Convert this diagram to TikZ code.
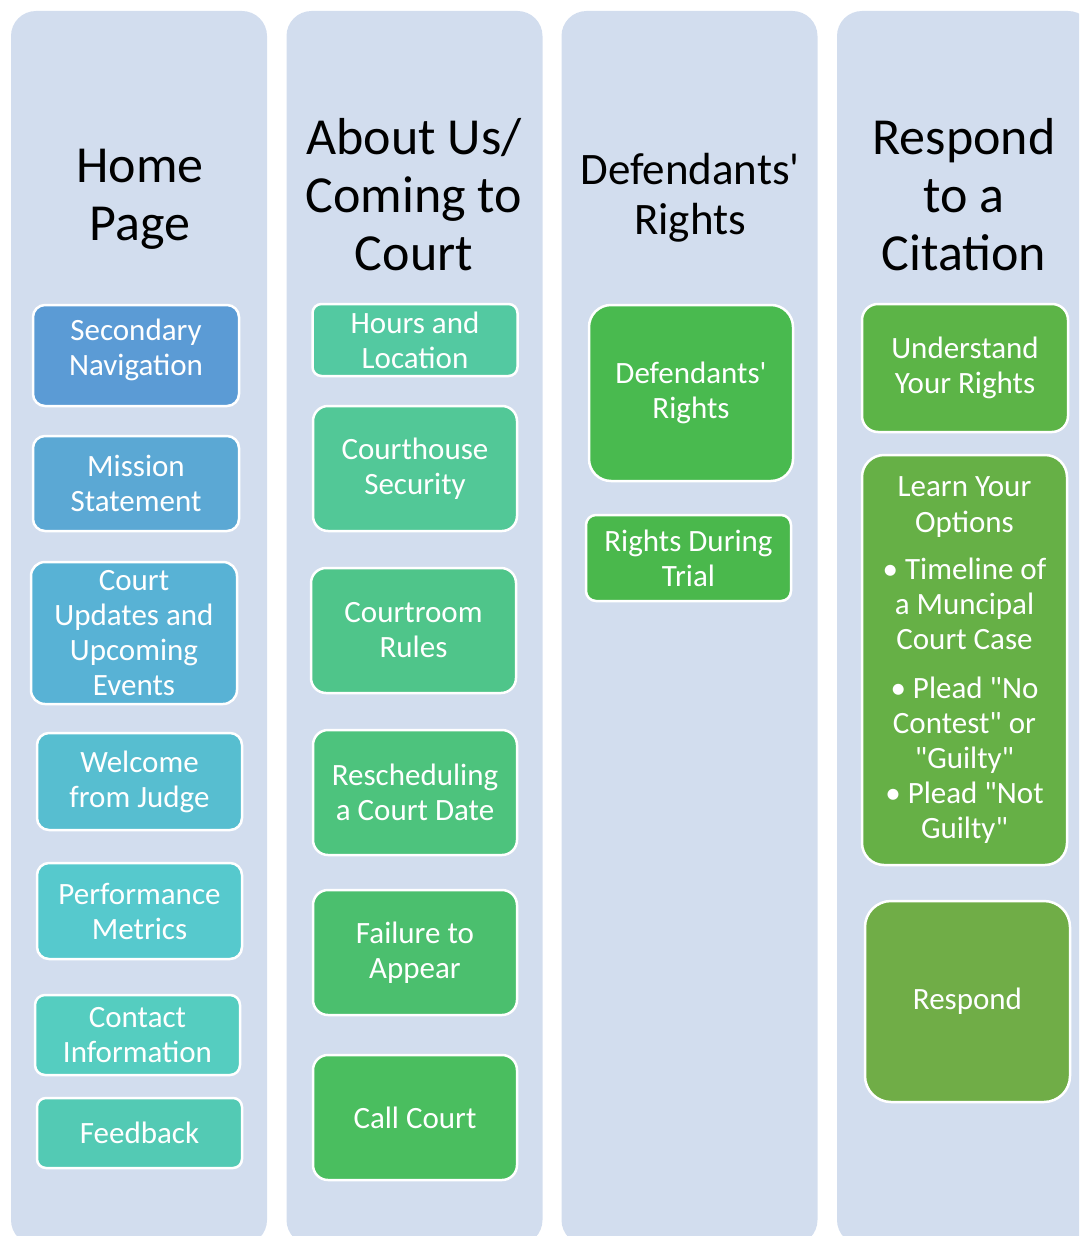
\documentclass[tikz,border=0pt]{standalone}
\usepackage{fontspec}
\setmainfont{Carlito}[Ligatures=TeXOff]
\definecolor{colbg}{HTML}{D2DDEE}
\definecolor{cA}{HTML}{5B9BD5}
\definecolor{cB}{HTML}{5BA8D4}
\definecolor{cC}{HTML}{58B2D5}
\definecolor{cD}{HTML}{57BED0}
\definecolor{cE}{HTML}{56C9CD}
\definecolor{cF}{HTML}{55CDC0}
\definecolor{cG}{HTML}{53CAB4}
\definecolor{cH}{HTML}{53C9A1}
\definecolor{cI}{HTML}{52C897}
\definecolor{cJ}{HTML}{4FC58A}
\definecolor{cK}{HTML}{4DC37D}
\definecolor{cL}{HTML}{4BBF6E}
\definecolor{cM}{HTML}{4ABE5F}
\definecolor{cN}{HTML}{49BA4F}
\definecolor{cO}{HTML}{4AB84C}
\definecolor{cP}{HTML}{5CB447}
\definecolor{cQ}{HTML}{66B046}
\definecolor{cR}{HTML}{70AD47}
\tikzset{
  colbox/.style={draw=none, fill=colbg, rounded corners=25pt, minimum width=256pt, minimum height=1234pt, inner sep=0pt},
  titletext/.style={text=black, align=center, font=\fontsize{52}{58}\selectfont, inner sep=0pt},
  itembox/.style={draw=white, line width=2.5pt, text=white, align=center, inner sep=0pt,
     font=\fontsize{31}{35}\selectfont},
}
\begin{document}
\begin{tikzpicture}[x=1pt,y=-1pt]
\useasboundingbox (0,0) rectangle (1079,1236);
\clip (0,0) rectangle (1079,1236);
% columns
\node[colbox] (c1) at (139,628) {};
\node[colbox] (c2) at (414.5,628) {};
\node[colbox] (c3) at (689.5,628) {};
\node[colbox] (c4) at (965,628) {};
% titles
\node[titletext] (t1) at (140,199) {Home\\Page};
\node[titletext] (t2) at (414,195) {About Us/\\Coming to\\Court};
\node[titletext, font=\fontsize{45}{50}\selectfont] (t3) at (690,198) {Defendants'\\Rights};
\node[titletext] (t4) at (964,195) {Respond\\to a\\Citation};
% column 1
\node[itembox, fill=cA, rounded corners=12pt, minimum width=206pt, minimum height=101pt] (sec) at (136,355.5) {Secondary\\Navigation\\[-18pt]\mbox{}};
\node[itembox, fill=cB, rounded corners=12pt, minimum width=206pt, minimum height=95pt] (mis) at (136,483.5) {Mission\\Statement};
\node[itembox, fill=cC, rounded corners=14pt, minimum width=206pt, minimum height=142pt] (upd) at (134,633) {Court\\Updates and\\Upcoming\\Events};
\node[itembox, fill=cD, rounded corners=12pt, minimum width=205pt, minimum height=97pt] (wel) at (139.5,781.5) {Welcome\\from Judge};
\node[itembox, fill=cE, rounded corners=12pt, minimum width=205pt, minimum height=96pt] (per) at (139.5,911) {Performance\\Metrics};
\node[itembox, fill=cF, rounded corners=10pt, minimum width=205pt, minimum height=80pt] (con) at (137.5,1035) {Contact\\Information};
\node[itembox, fill=cG, rounded corners=9pt, minimum width=205pt, minimum height=70pt] (fee) at (139.5,1133) {Feedback};
% column 2
\node[itembox, fill=cH, rounded corners=9pt, minimum width=205pt, minimum height=72pt] (hrs) at (415,340) {Hours and\\Location};
\node[itembox, fill=cI, rounded corners=15pt, minimum width=204pt, minimum height=125pt] (sty) at (415,468.5) {Courthouse\\Security};
\node[itembox, fill=cJ, rounded corners=15pt, minimum width=205pt, minimum height=125pt] (rul) at (413.5,630.5) {Courtroom\\Rules};
\node[itembox, fill=cK, rounded corners=15pt, minimum width=204pt, minimum height=125pt] (rsc) at (415,792.5) {Rescheduling\\a Court Date};
\node[itembox, fill=cL, rounded corners=15pt, minimum width=204pt, minimum height=125pt] (fai) at (415,952.5) {Failure to\\Appear};
\node[itembox, fill=cM, rounded corners=15pt, minimum width=204pt, minimum height=125pt] (cal) at (415,1117.5) {Call Court};
% column 3
\node[itembox, fill=cN, rounded corners=22pt, minimum width=204pt, minimum height=176pt] (dr) at (691,393) {Defendants'\\Rights};
\node[itembox, fill=cO, rounded corners=10pt, minimum width=205pt, minimum height=86pt] (rdt) at (688.5,558) {Rights During\\Trial};
% column 4
\node[itembox, fill=cP, rounded corners=16pt, minimum width=206pt, minimum height=128pt] (und) at (965,368) {Understand\\Your Rights};
\node[itembox, fill=cQ, rounded corners=22pt, minimum width=205pt, minimum height=410pt] (lrn) at (964.5,660) {Learn Your\\[1pt]Options\\[12pt]\textbullet\ Timeline of\\a Muncipal\\Court Case\\[14pt]\textbullet\ Plead "No\\Contest" or\\"Guilty"\\\textbullet\ Plead "Not\\Guilty"};
\node[itembox, fill=cR, rounded corners=26pt, minimum width=205pt, minimum height=201pt] (rsp) at (967.5,1001.5) {Respond};
\end{tikzpicture}
\end{document}
